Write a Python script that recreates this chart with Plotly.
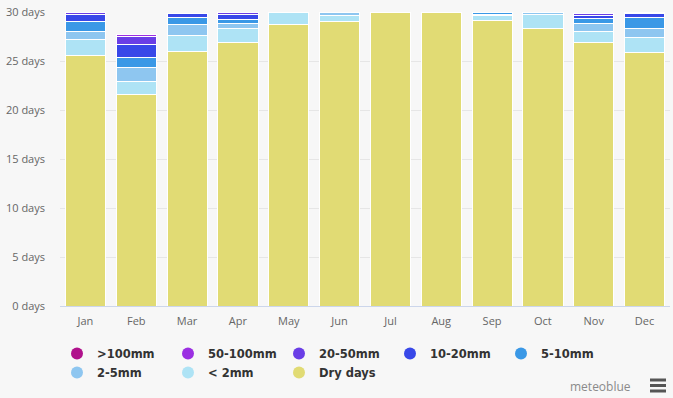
import plotly.graph_objects as go

months = ["Jan", "Feb", "Mar", "Apr", "May", "Jun", "Jul", "Aug", "Sep", "Oct", "Nov", "Dec"]

dry_days = [25.6, 21.6, 26.0, 26.85, 28.7, 29.05, 30.0, 30.0, 29.1, 28.3, 26.9, 25.9]
lt_2mm = [1.55, 1.35, 1.65, 1.45, 1.25, 0.6, 0, 0, 0.5, 1.45, 1.15, 1.5]
mm_2_5 = [0.9, 1.4, 1.05, 0.5, 0.05, 0.3, 0, 0, 0.15, 0.2, 0.8, 0.95]
mm_5_10 = [1.0, 1.0, 0.75, 0.4, 0, 0, 0, 0, 0.15, 0, 0.45, 1.05]
mm_10_20 = [0.7, 1.3, 0.35, 0.55, 0, 0, 0, 0, 0, 0, 0.35, 0.45]
mm_20_50 = [0.15, 0.9, 0.05, 0.15, 0, 0, 0, 0, 0, 0, 0.15, 0.05]
mm_50_100 = [0, 0.15, 0, 0, 0, 0, 0, 0, 0, 0, 0, 0]
gt_100mm = [0, 0, 0, 0, 0, 0, 0, 0, 0, 0, 0, 0]

series = [
    ("Dry days", dry_days, "#e1db74"),
    ("< 2mm", lt_2mm, "#aee3f5"),
    ("2-5mm", mm_2_5, "#8ec6f0"),
    ("5-10mm", mm_5_10, "#3a98e6"),
    ("10-20mm", mm_10_20, "#3848e8"),
    ("20-50mm", mm_20_50, "#6a3ee6"),
    ("50-100mm", mm_50_100, "#9b2fe2"),
    (">100mm", gt_100mm, "#b0118c"),
]

W, H = 673, 398
ML, MR, MT, MB = 60, 3, 12, 92
PW, PH = W - ML - MR, H - MT - MB


def px_x(x):
    return (x - ML) / PW


def px_y(y):
    return (H - MB - y) / PH


fig = go.Figure()
for name, vals, col in series:
    fig.add_trace(go.Bar(
        x=months, y=vals, name=name, showlegend=False,
        marker=dict(color=col, line=dict(color="white", width=1)),
    ))

# legend entries with round symbols, in the reference order (two rows)
for i, (name, vals, col) in enumerate(reversed(series)):
    fig.add_trace(go.Scatter(
        x=[None], y=[None], mode="markers", name=name,
        legend="legend" if i < 5 else "legend2",
        marker=dict(symbol="circle", size=12, color=col),
    ))

legend_font = dict(family="DejaVu Sans", size=11.5, color="#333333", weight="bold")
bg = "#f7f7f7"
fig.update_layout(
    width=W, height=H,
    paper_bgcolor=bg, plot_bgcolor=bg,
    barmode="stack", bargap=0.21,
    margin=dict(l=ML, r=MR, t=MT, b=MB, autoexpand=False),
    font=dict(family="Open Sans", size=11, color="#666666"),
    showlegend=True,
    legend=dict(
        orientation="h", traceorder="normal",
        x=px_x(57), xanchor="left", y=px_y(339), yanchor="top",
        entrywidth=66, entrywidthmode="pixels",
        font=legend_font, itemsizing="constant", bgcolor="rgba(0,0,0,0)",
    ),
    legend2=dict(
        orientation="h", traceorder="normal",
        x=px_x(57), xanchor="left", y=px_y(358), yanchor="top",
        entrywidth=66, entrywidthmode="pixels",
        font=legend_font, itemsizing="constant", bgcolor="rgba(0,0,0,0)",
    ),
    xaxis=dict(
        showgrid=False, showline=True, linecolor="#ccd6eb", linewidth=1,
        ticks="", ticklabelstandoff=5, tickfont=dict(size=11, color="#666666"),
    ),
    yaxis=dict(
        range=[0, 30], dtick=5, ticksuffix=" days",
        showgrid=True, gridcolor="#e6e6e6", gridwidth=1,
        zeroline=False, showline=False, ticks="", ticklabelstandoff=14,
        tickfont=dict(size=11, color="#666666"),
    ),
    annotations=[
        dict(text="meteoblue", xref="paper", yref="paper", x=px_x(633), y=px_y(386),
             xanchor="right", yanchor="middle", showarrow=False,
             font=dict(family="Open Sans", size=12, color="#8a8a8a")),
    ],
)

# hamburger menu icon (decoration)
for cy in (380, 385.5, 391):
    fig.add_shape(type="rect", xref="paper", yref="paper",
                  x0=px_x(650), x1=px_x(666), y0=px_y(cy + 1.5), y1=px_y(cy - 1.5),
                  fillcolor="#555555", line=dict(width=0))

fig.write_html("out.html", config={"displayModeBar": False},
               post_script="document.body.style.margin='0';")
